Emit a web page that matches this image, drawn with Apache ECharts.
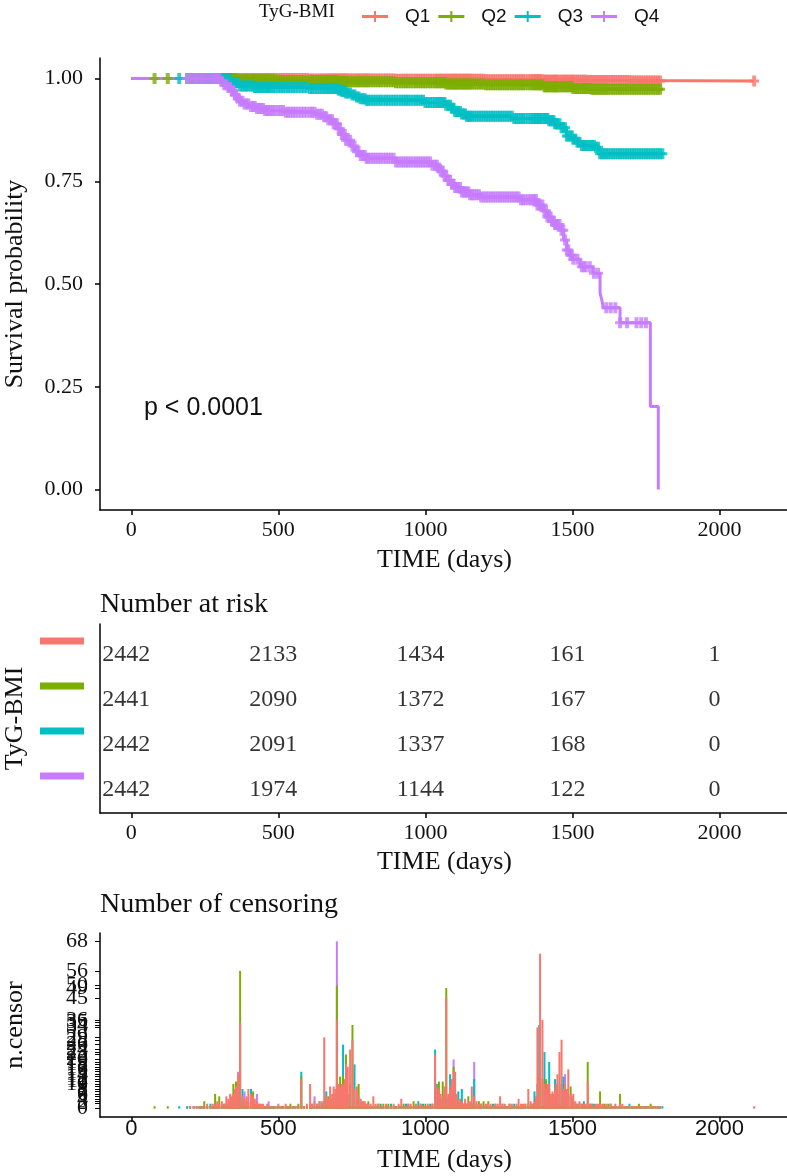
<!DOCTYPE html>
<html><head><meta charset="utf-8">
<script src="https://cdn.jsdelivr.net/npm/echarts@6/dist/echarts.min.js"></script>
<style>html,body{margin:0;padding:0;background:#fff}#c{width:787px;height:1176px}</style>
</head><body><div id="c"></div><script>
const groups = ['Q1','Q2','Q3','Q4'];
const colors = ['#F8766D','#7CAE00','#00BFC4','#C77CFF'];
const timeTicks = [0,500,1000,1500,2000];
const survTicks = [0,0.25,0.5,0.75,1];

// Kaplan-Meier step points
const kmQ1Time = [0,300,600,900,1200,1400,1550,1700,2118];
const kmQ1Surv = [1,1,0.999,0.998,0.997,0.996,0.995,0.994,0.994];
const kmQ2Time = [0,250,360,500,700,900,1070,1200,1400,1500,1560,1808];
const kmQ2Surv = [1,1,0.997,0.995,0.992,0.99,0.987,0.985,0.98,0.976,0.974,0.974];
const kmQ3Time = [0,320,340,370,420,600,700,715,730,745,760,780,800,1000,1070,1085,1100,1120,1140,1300,1420,1440,1460,1480,1500,1515,1530,1580,1590,1808];
const kmQ3Surv = [1,1,0.99,0.982,0.978,0.976,0.972,0.969,0.965,0.96,0.955,0.951,0.947,0.942,0.935,0.928,0.92,0.914,0.908,0.903,0.897,0.89,0.88,0.86,0.852,0.845,0.837,0.833,0.817,0.817];
const kmQ4Time = [0,280,300,315,330,340,350,360,370,385,400,425,450,520,630,650,670,685,700,715,730,745,760,780,800,900,1020,1040,1050,1062,1075,1088,1100,1120,1150,1190,1320,1380,1400,1413,1430,1440,1460,1470,1481,1490,1500,1526,1570,1594,1600,1605,1662,1765,1792];
const kmQ4Surv = [1,1,0.993,0.985,0.978,0.97,0.96,0.952,0.945,0.938,0.932,0.927,0.922,0.918,0.913,0.907,0.9,0.89,0.878,0.864,0.85,0.836,0.822,0.813,0.806,0.797,0.789,0.782,0.775,0.763,0.752,0.743,0.735,0.724,0.717,0.712,0.705,0.692,0.678,0.663,0.652,0.645,0.631,0.607,0.583,0.57,0.56,0.542,0.526,0.478,0.461,0.442,0.406,0.202,0];

// Number at risk
const riskTimes = [0,500,1000,1500,2000];
const riskQ1 = [2442,2133,1434,161,1];
const riskQ2 = [2441,2090,1372,167,0];
const riskQ3 = [2442,2091,1337,168,0];
const riskQ4 = [2442,1974,1144,122,0];

// Number of censoring per time (aligned arrays)
const censorTimes = [
 79,124,163,190,200,212,222,232,240,248,
 258,269,277,285,292,299,308,316,323,330,
 336,342,347,352,356,363,370,378,385,392,
 398,407,414,420,427,434,441,448,455,462,
 467,474,482,490,500,508,516,525,533,541,
 550,558,568,578,587,597,608,615,623,632,
 640,648,656,663,670,676,683,688,694,699,
 705,710,716,720,726,730,736,744,752,759,
 767,773,780,787,794,800,806,814,823,831,
 840,848,857,866,874,883,892,900,909,918,
 926,934,942,950,960,968,976,984,992,1000,
 1008,1016,1024,1033,1039,1046,1052,1059,1065,1071,
 1078,1084,1090,1096,1101,1106,1112,1118,1124,1130,
 1135,1141,1146,1152,1158,1166,1174,1182,1190,1198,
 1206,1214,1222,1230,1238,1246,1254,1262,1270,1278,
 1286,1294,1302,1310,1317,1325,1332,1340,1350,1358,
 1365,1371,1376,1381,1387,1390,1398,1405,1410,1415,
 1421,1426,1432,1436,1441,1445,1449,1456,1463,1469,
 1475,1481,1486,1494,1498,1503,1510,1517,1524,1532,
 1539,1545,1552,1559,1566,1573,1580,1587,1594,1601,
 1608,1615,1622,1630,1638,1646,1654,1662,1670,1678,
 1686,1694,1702,1710,1718,1726,1734,1742,1750,1758,
 1766,1774,1782,1790,1798,1806,2118];
const censorQ1 = [
 0,0,0,0,1,1,1,1,1,1,
 2,1,2,2,3,2,3,2,5,4,
 6,5,6,8,9,14,35,5,4,5,
 8,6,5,4,3,2,2,2,1,2,
 1,1,1,1,2,1,1,2,1,1,
 1,1,1,12,1,2,10,2,3,2,
 3,3,29,5,4,9,6,9,8,36,
 10,9,10,10,12,18,17,24,28,8,
 9,5,4,3,3,2,2,2,5,2,
 2,1,1,2,1,1,2,1,2,4,
 1,1,2,2,1,2,1,2,1,1,
 2,1,2,22,9,8,6,5,9,45,
 6,9,12,15,15,6,4,4,3,2,
 4,2,3,3,9,5,3,2,2,1,
 2,2,2,1,2,2,5,2,2,1,
 2,2,1,2,4,2,2,2,8,3,
 2,3,5,33,12,63,36,10,8,10,
 10,6,7,6,8,10,14,23,28,8,
 10,8,16,6,5,6,3,2,3,2,
 2,2,11,2,2,1,2,2,2,2,
 1,2,1,2,1,2,1,2,2,1,
 1,1,1,1,1,1,1,1,1,1,
 1,1,1,1,1,0,1];
const censorQ2 = [
 1,1,0,0,1,0,1,1,1,3,
 1,1,1,6,1,5,1,1,2,1,
 3,1,10,1,11,8,56,3,1,3,
 1,1,7,1,1,2,1,1,1,1,
 1,1,1,1,1,1,1,1,1,2,
 1,1,2,13,1,1,1,2,1,1,
 1,2,1,3,5,1,4,1,6,50,
 7,13,1,13,8,22,1,10,34,1,
 4,10,1,3,1,1,3,1,1,1,
 2,1,2,1,2,1,1,1,1,1,
 2,1,1,1,3,1,1,2,1,2,
 1,1,2,1,1,11,1,11,1,49,
 1,1,1,17,8,1,1,2,1,2,
 1,1,5,1,2,1,2,3,1,3,
 1,3,1,1,2,1,1,1,1,1,
 2,1,1,1,1,1,1,2,1,2,
 1,1,3,1,13,20,12,1,12,1,
 8,5,6,1,1,6,1,8,1,1,
 1,6,1,9,1,3,1,2,1,2,
 1,1,19,1,2,1,1,1,7,1,
 2,1,2,1,1,1,1,6,1,1,
 1,1,1,1,1,2,1,1,1,1,
 2,1,1,1,1,0,0];
const censorQ3 = [
 0,0,1,1,0,1,0,1,1,1,
 1,2,1,1,1,1,1,2,1,1,
 1,3,1,4,1,5,6,8,1,1,
 1,8,1,2,1,1,1,1,1,1,
 1,1,1,1,1,1,1,1,1,1,
 1,1,1,15,1,1,2,1,1,2,
 3,1,3,7,1,3,1,1,1,10,
 1,1,8,26,1,1,6,1,1,18,
 1,1,3,1,1,2,1,1,1,1,
 1,2,1,1,1,2,1,1,1,1,
 1,2,1,1,1,1,3,1,2,1,
 1,2,1,24,10,1,4,1,5,1,
 5,14,6,1,1,4,7,1,8,1,
 2,1,1,2,1,12,1,1,2,1,
 1,1,1,2,1,1,1,2,1,1,
 1,1,2,1,1,1,1,1,2,1,
 2,7,1,10,34,20,1,23,1,6,
 19,1,1,4,12,1,6,1,10,13,
 1,1,5,1,4,1,2,1,2,1,
 3,1,1,2,1,2,1,1,1,1,
 1,1,1,2,1,1,1,1,1,1,
 1,2,1,1,1,1,1,1,1,1,
 1,1,1,1,1,1,0];
const censorQ4 = [
 0,0,0,1,1,1,1,1,1,1,
 1,1,1,1,1,1,1,1,1,2,
 1,1,1,1,1,15,5,1,7,1,
 3,1,1,1,6,1,1,1,1,1,
 3,1,1,1,1,1,1,1,1,1,
 1,1,1,1,1,1,1,1,5,1,
 1,1,1,1,1,1,1,3,1,68,
 1,1,1,1,4,1,1,1,1,1,
 1,1,1,1,2,1,1,1,1,1,
 1,1,1,1,1,1,1,1,1,1,
 1,1,2,1,1,1,1,1,1,1,
 1,1,1,1,6,1,1,1,1,1,
 1,1,1,20,1,1,1,1,1,1,
 1,2,1,1,1,19,1,1,1,1,
 1,1,1,1,1,1,1,1,1,1,
 1,1,1,1,1,1,1,1,1,1,
 1,1,1,1,1,1,1,1,1,1,
 1,1,1,1,1,1,1,1,1,1,
 14,1,1,1,1,1,0,1,0,1,
 1,1,0,1,0,1,0,1,0,0,
 0,1,0,1,0,1,0,1,0,0,
 1,0,0,0,1,0,1,0,1,0,
 0,0,0,0,0,0,0];

const serif = "'Liberation Serif','Times New Roman',serif";
const sans = "'Liberation Sans',Arial,sans-serif";
const ink = '#111';

const km = [[kmQ1Time,kmQ1Surv],[kmQ2Time,kmQ2Surv],[kmQ3Time,kmQ3Surv],[kmQ4Time,kmQ4Surv]];
const risk = [riskQ1,riskQ2,riskQ3,riskQ4];
const cens = [censorQ1,censorQ2,censorQ3,censorQ4];
function survAt(g, t){ const T=km[g][0], S=km[g][1]; let v=S[0]; for(let i=0;i<T.length;i++){ if(T[i]<=t) v=S[i]; } return v; }
const censorLevels = Array.from(new Set([0].concat(...cens))).sort((a,b)=>a-b);

// censor mark "+" (thick vertical stroke)
const cross = 'path://M3,0L7,0L7,4L10,4L10,7L7,7L7,11L3,11L3,7L0,7L0,4L3,4Z';
const series = [];
groups.forEach((g,i)=>{
  series.push({name:g,type:'line',xAxisIndex:0,yAxisIndex:0,step:'end',symbol:'none',showSymbol:false,
    lineStyle:{width:3,color:colors[i]},itemStyle:{color:colors[i]},
    data:km[i][0].map((t,k)=>[t,km[i][1][k]]),z:2});
  series.push({name:g,type:'scatter',xAxisIndex:0,yAxisIndex:0,symbol:cross,symbolSize:[10,11],
    itemStyle:{color:colors[i]},
    data:censorTimes.map((t,k)=>[t,cens[i][k]]).filter(d=>d[1]>0).map(d=>[d[0],survAt(i,d[0])]),z:3});
});
groups.forEach((g,i)=>{
  series.push({name:g,type:'scatter',xAxisIndex:1,yAxisIndex:1,symbolSize:0,
    itemStyle:{color:'#000'},
    label:{show:true,position:'inside',offset:[-5,4],formatter:p=>String(p.value[2]),fontFamily:serif,fontSize:24,color:'#000'},
    data:riskTimes.map((t,k)=>[t,4-i,risk[i][k]])});
});
[3,2,1,0].forEach(i=>{
  series.push({name:groups[i],type:'bar',xAxisIndex:2,yAxisIndex:2,barWidth:2,barGap:'-100%',
    itemStyle:{color:colors[i]},
    data:censorTimes.map((t,k)=>[t,cens[i][k]]).filter(d=>d[1]>0)});
});

function xAxisDef(gi, labelFont, margin, nameGap){
  return {type:'value',gridIndex:gi,min:-106.5,max:2236.5,
    axisLine:{show:true,onZero:false,lineStyle:{color:'#000',width:1.5}},
    axisTick:{show:true,length:5,customValues:timeTicks,lineStyle:{color:'#000',width:1.5}},
    axisLabel:{customValues:timeTicks,formatter:v=>String(v),fontFamily:labelFont,fontSize:22,color:ink,margin:margin,hideOverlap:false,showMinLabel:true,showMaxLabel:true},
    splitLine:{show:false},
    name:'TIME (days)',nameLocation:'middle',nameGap:nameGap,
    nameTextStyle:{fontFamily:serif,fontSize:26,color:ink}};
}
const richBars = {sp:{height:20,lineHeight:20,fontSize:7}};
groups.forEach((g,i)=>{ richBars[g]={backgroundColor:colors[i],width:44,height:7,lineHeight:7,fontSize:7}; });

const option = {
  animation:false,
  backgroundColor:'#fff',
  grid:[
    {left:100,top:58,width:689,height:452,containLabel:false,outerBoundsMode:'none'},
    {left:100,top:624,width:689,height:189,containLabel:false,outerBoundsMode:'none'},
    {left:100,top:933,width:689,height:184,containLabel:false,outerBoundsMode:'none'}
  ],
  legend:{data:groups,left:357,top:2,itemWidth:26,itemHeight:11,itemGap:8,selectedMode:false,
    icon:'path://M0,4L26,4L26,7L0,7Z M12,0L14,0L14,11L12,11Z',
    textStyle:{fontFamily:sans,fontSize:19,color:ink,padding:[0,0,0,12]}},
  xAxis:[xAxisDef(0,serif,9,37), xAxisDef(1,serif,9,36), xAxisDef(2,sans,1,30)],
  yAxis:[
    {type:'value',gridIndex:0,min:-0.05,max:1.05,
      axisLine:{show:true,onZero:false,lineStyle:{color:'#000',width:1.5}},
      axisTick:{show:true,length:5,customValues:survTicks,lineStyle:{color:'#000',width:1.5}},
      axisLabel:{customValues:survTicks,formatter:v=>v.toFixed(2),fontFamily:serif,fontSize:22,color:ink,margin:17,hideOverlap:false,showMinLabel:true,showMaxLabel:true},
      splitLine:{show:false},
      name:'Survival probability',nameLocation:'middle',nameGap:72,
      nameTextStyle:{fontFamily:serif,fontSize:26,color:ink}},
    {type:'value',gridIndex:1,min:0.4,max:4.6,
      axisLine:{show:true,onZero:false,lineStyle:{color:'#000',width:1.5}},
      axisTick:{show:false},
      axisLabel:{customValues:[1,2,3,4],margin:16,formatter:v=>'{'+groups[4-v]+'| }\n{sp| }',rich:richBars,hideOverlap:false,showMinLabel:true,showMaxLabel:true},
      splitLine:{show:false},
      name:'TyG-BMI',nameLocation:'middle',nameGap:72,
      nameTextStyle:{fontFamily:serif,fontSize:26,color:ink}},
    {type:'value',gridIndex:2,min:-3.4,max:71.4,
      axisLine:{show:true,onZero:false,lineStyle:{color:'#000',width:1.5}},
      axisTick:{show:true,length:5,customValues:censorLevels,lineStyle:{color:'#000',width:1}},
      axisLabel:{customValues:censorLevels,fontFamily:serif,fontSize:22,color:ink,margin:12,hideOverlap:false,showMinLabel:true,showMaxLabel:true},
      splitLine:{show:false},
      name:'n.censor',nameLocation:'middle',nameGap:72,
      nameTextStyle:{fontFamily:serif,fontSize:26,color:ink}}
  ],
  graphic:[
    {type:'text',x:259,y:12,style:{text:'TyG-BMI',font:"19px 'Liberation Serif'",fill:ink,verticalAlign:'middle'}},
    {type:'text',x:144,y:408,style:{text:'p < 0.0001',font:"25px 'Liberation Sans'",fill:ink,verticalAlign:'middle'}},
    {type:'text',x:100,y:605,style:{text:'Number at risk',font:"28px 'Liberation Serif'",fill:ink,verticalAlign:'middle'}},
    {type:'text',x:100,y:905,style:{text:'Number of censoring',font:"28px 'Liberation Serif'",fill:ink,verticalAlign:'middle'}}
  ],
  series:series
};
const chart = echarts.init(document.getElementById('c'),null,{renderer:'canvas'});
chart.setOption(option);
</script></body></html>
